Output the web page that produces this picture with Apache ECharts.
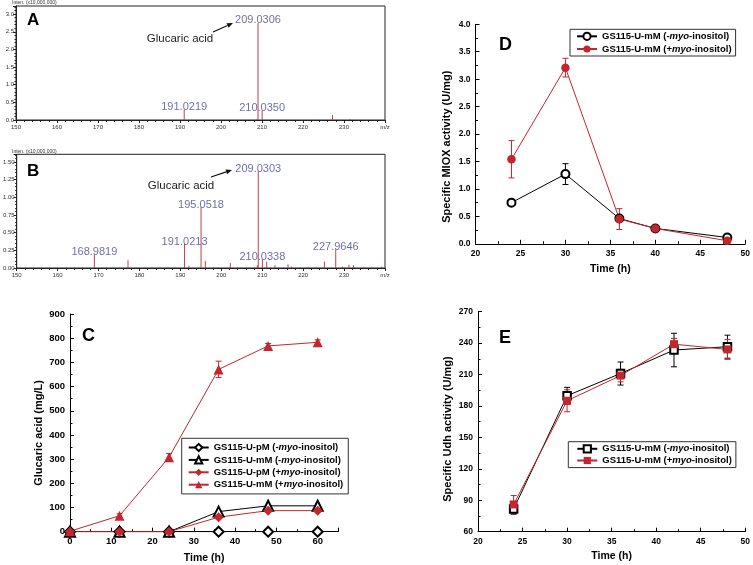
<!DOCTYPE html>
<html>
<head>
<meta charset="utf-8">
<script src="https://cdn.jsdelivr.net/npm/echarts@6/dist/echarts.min.js"></script>
<style>
html, body { margin: 0; padding: 0; background: #fff; }
#chart { width: 753px; height: 565px; }
</style>
</head>
<body>
<div id="chart"></div>
<script>
// Panel A: mass spectrum, peaks as [m/z, intensity x10^7]
var peaksA = [[191.0219, 0.30], [208.8, 0.03], [209.0306, 2.75], [210.0350, 0.27], [227.2, 0.14], [231.5, 0.03]];
var labelsA = ['191.0219', '209.0306', '210.0350'];

// Panel B
var peaksB = [[168.9819, 0.19], [177.2, 0.11], [191.0213, 0.34], [192.1, 0.03], [195.0518, 0.86],
    [196.1, 0.10], [202.2, 0.07], [208.8, 0.04], [209.0303, 1.37], [210.0338, 0.12], [211.1, 0.09],
    [213.1, 0.04], [216.3, 0.05], [217.1, 0.02], [225.2, 0.09], [227.9646, 0.265], [229.6, 0.02],
    [231.2, 0.045], [232.3, 0.04], [239.2, 0.02]];
var labelsB = ['168.9819', '191.0213', '195.0518', '209.0303', '210.0338', '227.9646'];

// Panel C: glucaric acid (mg/L)
var timeC = [0, 12, 24, 36, 48, 60];
var pMminusC = [0, 0, 0, 0, 0, 0];
var mMminusC = [0, 0, 0, 83, 107, 107];
var pMplusC = [0, 0, 0, 60, 87, 87];
var mMplusC = [2, 66, 308, 671, 768, 783];
var mMplusErrC = [0, 8, 15, 34, 10, 10];

// Panel D: MIOX activity (U/mg)
var timeD = [24, 30, 36, 40, 48];
var minusD = [0.75, 1.27, 0.46, 0.28, 0.115];
var minusErrD = [0.03, 0.19, 0.05, 0.02, 0.02];
var plusD = [1.54, 3.21, 0.45, 0.28, 0.055];
var plusErrD = [0.34, 0.17, 0.19, 0.03, 0.02];

// Panel E: Udh activity (U/mg)
var timeE = [24, 30, 36, 42, 48];
var minusE = [81.7, 189.8, 211, 233.4, 236.6];
var minusErrE = [5, 8, 11, 16, 11];
var plusE = [86, 185, 209, 239, 234];
var plusErrE = [8.5, 10.5, 6, 5.5, 9.5];

var FONT = '"Liberation Sans", Arial, sans-serif';
var RED = '#c1272d';
var PEAK = '#b8444a';

function pairs(xs, ys) {
    return xs.map(function (x, i) { return [x, ys[i]]; });
}
function errData(xs, ys, es) {
    return xs.map(function (x, i) { return [x, ys[i] - es[i], ys[i] + es[i]]; })
        .filter(function (d) { return d[2] > d[1]; });
}

function errorSeries(idx, data, color) {
    return {
        type: 'custom', xAxisIndex: idx, yAxisIndex: idx, data: data, silent: true, z: 1,
        encode: { x: 0, y: [1, 2] },
        renderItem: function (params, api) {
            var x = api.value(0);
            var lo = api.coord([x, api.value(1)]);
            var hi = api.coord([x, api.value(2)]);
            var w = 3;
            var st = { stroke: color, lineWidth: 1 };
            return {
                type: 'group', children: [
                    { type: 'line', shape: { x1: lo[0], y1: lo[1], x2: hi[0], y2: hi[1] }, style: st },
                    { type: 'line', shape: { x1: lo[0] - w, y1: lo[1], x2: lo[0] + w, y2: lo[1] }, style: st },
                    { type: 'line', shape: { x1: hi[0] - w, y1: hi[1], x2: hi[0] + w, y2: hi[1] }, style: st }
                ]
            };
        }
    };
}

function peakSeries(idx, data) {
    return {
        type: 'custom', xAxisIndex: idx, yAxisIndex: idx, data: data, silent: true,
        encode: { x: 0, y: 1 },
        renderItem: function (params, api) {
            var top = api.coord([api.value(0), api.value(1)]);
            var base = api.coord([api.value(0), 0]);
            return { type: 'line', shape: { x1: top[0], y1: base[1], x2: top[0], y2: top[1] },
                style: { stroke: PEAK, lineWidth: 1 } };
        }
    };
}

function labelSeries(idx, peaks, labels) {
    var data = labels.map(function (t) {
        var p = peaks.filter(function (q) { return q[0].toFixed(4) === t; })[0];
        return [p[0], p[1], t];
    });
    return {
        type: 'scatter', xAxisIndex: idx, yAxisIndex: idx, data: data, symbolSize: 1,
        itemStyle: { color: 'transparent' }, silent: true, z: 5,
        label: {
            show: true, position: 'inside', offset: [0, -2.5], color: '#4b4b96',
            fontSize: 11, fontFamily: FONT,
            formatter: function (p) { return p.value[2]; }
        }
    };
}

function lineSeries(name, idx, xs, ys, symbol, size, color) {
    var empty = symbol.indexOf('empty') === 0;
    return {
        name: name, type: 'line', xAxisIndex: idx, yAxisIndex: idx, data: pairs(xs, ys),
        symbol: symbol, symbolSize: size, showSymbol: true, z: 3,
        lineStyle: { color: color, width: 1 },
        itemStyle: { color: color, borderColor: color, borderWidth: empty ? 1.5 : 0 }
    };
}

function msX(idx) {
    return {
        type: 'value', gridIndex: idx, min: 150, max: 240, interval: 10,
        axisLine: { lineStyle: { color: '#222', width: 1 } },
        axisTick: { length: 3, lineStyle: { color: '#222' } },
        minorTick: { show: true, splitNumber: 5, length: 2, lineStyle: { color: '#222' } },
        splitLine: { show: false },
        axisLabel: { fontSize: 6, color: '#333', margin: 4, fontFamily: FONT,
            formatter: function (v) { return v === 240 ? 'm/z' : v; } }
    };
}
function msY(idx, max, interval, digits) {
    return {
        type: 'value', gridIndex: idx, min: 0, max: max, interval: interval,
        axisLine: { show: true, lineStyle: { color: '#222', width: 1 } },
        axisTick: { show: true, length: 3, lineStyle: { color: '#222' } },
        minorTick: { show: true, splitNumber: 5, length: 1.5, lineStyle: { color: '#222' } },
        splitLine: { show: false },
        axisLabel: { fontSize: 6, color: '#333', margin: 2, fontFamily: FONT, showMaxLabel: false,
            formatter: function (v) { return v.toFixed(digits); } }
    };
}

function timeX(idx, min, max, name, gap, fs) {
    return {
        type: 'value', gridIndex: idx, min: min, max: max, interval: idx === 2 ? 10 : 5,
        name: name, nameLocation: 'middle', nameGap: gap,
        nameTextStyle: { fontWeight: 'bold', fontSize: 10.5, color: '#000', fontFamily: FONT },
        axisLine: { show: true, lineStyle: { color: '#000', width: 1 } },
        axisTick: { show: true, inside: true, length: 4, lineStyle: { color: '#000' } },
        minorTick: { show: true, splitNumber: 2, length: 2.5, lineStyle: { color: '#000' } },
        splitLine: { show: false },
        axisLabel: { fontSize: fs, fontWeight: 'bold', color: '#000', margin: 5, fontFamily: FONT, showMaxLabel: idx !== 2 }
    };
}
function valY(idx, min, max, interval, fs, fmt) {
    return {
        type: 'value', gridIndex: idx, min: min, max: max, interval: interval,
        axisLine: { show: true, lineStyle: { color: '#000', width: 1 } },
        axisTick: { show: true, inside: true, length: 4, lineStyle: { color: '#000' } },
        minorTick: { show: true, splitNumber: 2, length: 2.5, lineStyle: { color: '#000' } },
        splitLine: { show: false },
        axisLabel: { fontSize: fs, fontWeight: 'bold', color: '#000', margin: 5, fontFamily: FONT, formatter: fmt }
    };
}

function legendCfg(left, top, names, gap, pad) {
    return {
        left: left, top: top, orient: 'vertical', data: names, itemWidth: 20, itemHeight: 9, itemGap: gap,
        padding: pad, borderColor: '#333', borderWidth: 1, backgroundColor: '#fff', selectedMode: false,
        formatter: function (n) { return n.slice(3).replace('myo', '{i|myo}'); },
        textStyle: {
            fontFamily: FONT, fontSize: 9.5, fontWeight: 'bold', color: '#000', lineHeight: 10,
            rich: { i: { fontFamily: FONT, fontSize: 9.5, fontWeight: 'bold', fontStyle: 'italic', color: '#000', lineHeight: 10 } }
        }
    };
}

function txt(x, y, s, font, color, align, rot) {
    return { type: 'text', x: x, y: y, rotation: rot || 0, silent: true,
        style: { text: s, font: font, fill: color || '#000', textAlign: align || 'left', textVerticalAlign: 'middle' } };
}
function arrow(x1, y1, x2, y2) {
    var dx = x2 - x1, dy = y2 - y1, len = Math.sqrt(dx * dx + dy * dy);
    var ux = dx / len, uy = dy / len, bx = x2 - 6 * ux, by = y2 - 6 * uy;
    return [
        { type: 'line', silent: true, shape: { x1: x1, y1: y1, x2: bx, y2: by }, style: { stroke: '#111', lineWidth: 1.2 } },
        { type: 'polygon', silent: true, shape: { points: [[x2, y2], [bx - 2.5 * uy, by + 2.5 * ux], [bx + 2.5 * uy, by - 2.5 * ux]] },
            style: { fill: '#111' } }
    ];
}

var namesC = ['C1 GS115-U-pM (-myo-inositol)', 'C2 GS115-U-mM (-myo-inositol)',
    'C3 GS115-U-pM (+myo-inositol)', 'C4 GS115-U-mM (+myo-inositol)'];
var namesD = ['D1 GS115-U-mM (-myo-inositol)', 'D2 GS115-U-mM (+myo-inositol)'];
var namesE = ['E1 GS115-U-mM (-myo-inositol)', 'E2 GS115-U-mM (+myo-inositol)'];

var chart = echarts.init(document.getElementById('chart'));
var option = {
    backgroundColor: '#fff',
    animation: false,
    textStyle: { fontFamily: FONT },
    grid: [
        { left: 16, top: 6, width: 369, height: 114, show: true, borderColor: '#222', borderWidth: 1 },
        { left: 16, top: 154.3, width: 369, height: 113.7, show: true, borderColor: '#222', borderWidth: 1 },
        { left: 70, top: 314, width: 268.3, height: 217.7 },
        { left: 475.5, top: 24.3, width: 270.5, height: 219.5 },
        { left: 478, top: 311.7, width: 269.3, height: 220 }
    ],
    xAxis: [
        msX(0), msX(1),
        timeX(2, 0, 65, 'Time (h)', 21, 9.5),
        timeX(3, 20, 50, 'Time (h)', 20, 8.5),
        timeX(4, 20, 50, 'Time (h)', 19, 8.5)
    ],
    yAxis: [
        msY(0, 3.23, 0.5, 1),
        msY(1, 1.609, 0.25, 2),
        valY(2, 0, 900, 100, 9.5),
        valY(3, 0, 4, 0.5, 8.5, function (v) { return v.toFixed(1); }),
        valY(4, 60, 270, 30, 8.5)
    ],
    legend: [
        legendCfg(181.7, 438.3, namesC, 2.4, [4.2, 5, 4.2, 6]),
        legendCfg(570, 29.3, namesD, 2.7, [2, 4, 2, 6]),
        legendCfg(568.3, 441.7, namesE, 1.7, [2.1, 4, 2.1, 8])
    ],
    series: [
        peakSeries(0, peaksA),
        labelSeries(0, peaksA, labelsA),
        peakSeries(1, peaksB),
        labelSeries(1, peaksB, labelsB),

        errorSeries(2, errData(timeC, mMplusC, mMplusErrC), RED),
        lineSeries(namesC[0], 2, timeC, pMminusC, 'emptyDiamond', 10, '#000'),
        lineSeries(namesC[1], 2, timeC, mMminusC, 'emptyTriangle', 10, '#000'),
        lineSeries(namesC[2], 2, timeC, pMplusC, 'diamond', 10, RED),
        lineSeries(namesC[3], 2, timeC, mMplusC, 'triangle', 10, RED),

        errorSeries(3, errData(timeD, minusD, minusErrD), '#000'),
        errorSeries(3, errData(timeD, plusD, plusErrD), RED),
        lineSeries(namesD[0], 3, timeD, minusD, 'emptyCircle', 8, '#000'),
        lineSeries(namesD[1], 3, timeD, plusD, 'circle', 8.5, RED),

        errorSeries(4, errData(timeE, minusE, minusErrE), '#000'),
        errorSeries(4, errData(timeE, plusE, plusErrE), RED),
        lineSeries(namesE[0], 4, timeE, minusE, 'emptyRect', 7.5, '#000'),
        lineSeries(namesE[1], 4, timeE, plusE, 'rect', 8, RED)
    ],
    graphic: [
        txt(12, 2.5, 'Inten. (x10,000,000)', '5px ' + FONT, '#333'),
        txt(12, 151.5, 'Inten. (x10,000,000)', '5px ' + FONT, '#333'),
        txt(27, 20, 'A', 'bold 17px ' + FONT),
        txt(27, 171.7, 'B', 'bold 17px ' + FONT),
        txt(82, 336, 'C', 'bold 18px ' + FONT),
        txt(499, 45, 'D', 'bold 18px ' + FONT),
        txt(499, 338, 'E', 'bold 18px ' + FONT),
        txt(180, 39, 'Glucaric acid', '11.5px ' + FONT, '#222', 'center'),
        txt(181, 185.7, 'Glucaric acid', '11.5px ' + FONT, '#222', 'center'),
        txt(39, 433, 'Glucaric acid (mg/L)', 'bold 11px ' + FONT, '#000', 'center', Math.PI / 2),
        txt(446.7, 146.7, 'Specific MIOX activity (U/mg)', 'bold 11px ' + FONT, '#000', 'center', Math.PI / 2),
        txt(448, 429, 'Specific Udh activity (U/mg)', 'bold 11px ' + FONT, '#000', 'center', Math.PI / 2)
    ].concat(arrow(213, 32, 233, 23), arrow(211, 177, 232, 170))
};
chart.setOption(option);
</script>
</body>
</html>
